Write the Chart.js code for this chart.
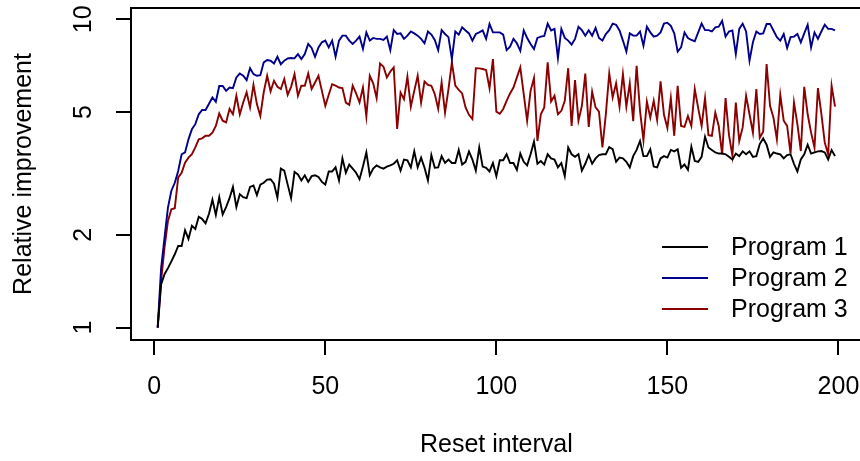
<!DOCTYPE html>
<html>
<head>
<meta charset="utf-8">
<script src="https://cdn.jsdelivr.net/npm/chart.js@4"></script>
<style>
  body { margin: 0; background: #fff; }
  #wrap { width: 860px; height: 461px; }
</style>
</head>
<body>
<div id="wrap"><canvas id="improvementChart" width="860" height="461"></canvas></div>
<script>
// values (relative improvement, log axis)
var program1 = [
  1.00, 1.38, 1.49, 1.56, 1.64, 1.73, 1.84, 1.84, 2.07, 1.94,
  2.14, 2.09, 2.29, 2.25, 2.18, 2.34, 2.60, 2.32, 2.65, 2.33,
  2.46, 2.63, 2.86, 2.46, 2.71, 2.65, 2.63, 2.86, 2.89, 2.69,
  2.91, 2.95, 3.02, 3.03, 2.93, 2.64, 3.28, 3.23, 2.91, 2.63,
  3.20, 3.14, 3.00, 3.12, 2.97, 3.10, 3.12, 3.08, 2.97, 2.91,
  3.21, 3.21, 3.31, 3.00, 3.54, 3.18, 3.38, 3.28, 3.18, 3.03,
  3.33, 3.70, 3.12, 3.28, 3.36, 3.31, 3.28, 3.33, 3.36, 3.40,
  3.49, 3.23, 3.51, 3.49, 3.31, 3.73, 3.31, 3.56, 3.30, 3.00,
  3.63, 3.30, 3.31, 3.60, 3.42, 3.51, 3.42, 3.42, 3.77, 3.38,
  3.45, 3.73, 3.51, 3.23, 3.84, 3.33, 3.30, 3.21, 3.42, 3.10,
  3.49, 3.49, 3.65, 3.42, 3.42, 3.25, 3.67, 3.45, 3.36, 3.65,
  4.01, 3.40, 3.47, 3.38, 3.65, 3.54, 3.51, 3.31, 3.42, 3.10,
  3.84, 3.65, 3.58, 3.65, 3.23, 3.40, 3.63, 3.40, 3.54, 3.63,
  3.65, 3.65, 3.85, 3.79, 3.45, 3.56, 3.54, 3.45, 3.31, 3.60,
  3.77, 4.03, 3.60, 3.60, 3.79, 3.33, 3.31, 3.54, 3.60, 3.56,
  3.77, 3.73, 3.79, 3.30, 3.38, 3.25, 3.86, 3.47, 3.45, 3.58,
  4.16, 3.84, 3.77, 3.70, 3.67, 3.67, 3.65, 3.58, 3.51, 3.67,
  3.60, 3.73, 3.65, 3.73, 3.58, 3.60, 3.94, 4.11, 3.92, 3.58,
  3.70, 3.67, 3.65, 3.54, 3.63, 3.65, 3.40, 3.21, 3.51, 3.65,
  3.92, 3.67, 3.70, 3.73, 3.74, 3.70, 3.51, 3.77, 3.60
];
var program2 = [
  1.00, 1.56, 1.96, 2.45, 2.78, 2.95, 3.22, 3.65, 3.70, 4.08,
  4.40, 4.57, 4.92, 5.08, 5.08, 5.32, 5.58, 5.40, 6.08, 6.08,
  5.86, 6.01, 5.98, 6.48, 6.67, 6.56, 6.35, 6.94, 6.64, 6.56,
  6.59, 7.25, 7.38, 7.34, 7.19, 7.56, 7.15, 7.34, 7.47, 7.49,
  7.47, 7.71, 7.43, 7.71, 8.32, 8.07, 7.56, 8.11, 8.42, 8.53,
  8.11, 8.53, 7.56, 8.53, 8.85, 8.85, 8.53, 8.32, 8.53, 8.79,
  8.01, 9.07, 8.53, 8.70, 8.64, 8.64, 8.57, 8.79, 7.94, 9.22,
  8.96, 9.00, 8.64, 8.85, 9.13, 9.00, 8.85, 8.64, 8.36, 9.13,
  8.92, 8.57, 7.94, 9.22, 8.96, 8.75, 7.43, 9.13, 8.92, 9.42,
  9.20, 9.00, 8.53, 8.96, 9.07, 9.20, 8.64, 9.66, 9.07, 9.07,
  9.07, 8.92, 7.94, 8.15, 8.64, 8.36, 7.90, 9.20, 8.70, 8.32,
  8.01, 8.70, 8.79, 8.83, 9.68, 9.20, 9.31, 7.49, 9.31, 8.70,
  8.53, 8.28, 8.64, 9.46, 9.22, 8.85, 9.22, 8.85, 9.38, 8.70,
  8.53, 8.96, 9.22, 9.68, 9.60, 9.20, 8.53, 7.86, 9.00, 8.85,
  8.85, 9.13, 8.21, 9.46, 9.07, 8.79, 8.85, 9.07, 9.68, 9.75,
  9.53, 9.00, 7.86, 8.11, 9.07, 8.70, 8.57, 8.49, 9.07, 9.68,
  9.22, 9.22, 9.13, 9.42, 9.46, 9.88, 8.79, 9.13, 9.20, 7.71,
  9.31, 9.68, 9.13, 7.34, 8.42, 9.13, 8.96, 9.00, 9.66, 9.66,
  9.20, 8.75, 8.53, 8.96, 8.07, 8.75, 8.79, 8.96, 8.42, 9.00,
  9.60, 8.11, 9.07, 8.64, 9.13, 9.60, 9.31, 9.31, 9.20
];
var program3 = [
  1.00, 1.42, 1.82, 2.22, 2.42, 2.44, 3.07, 3.18, 3.43, 3.56,
  3.65, 3.84, 4.08, 4.11, 4.19, 4.19, 4.29, 4.51, 4.95, 4.69,
  4.63, 5.12, 4.92, 5.65, 4.92, 5.37, 5.80, 5.18, 6.13, 5.31,
  4.86, 5.80, 6.56, 5.84, 6.32, 6.04, 5.94, 6.40, 5.69, 6.04,
  6.64, 5.65, 6.09, 6.09, 6.67, 5.94, 6.24, 6.56, 5.86, 5.24,
  5.69, 6.16, 6.09, 6.01, 5.98, 5.37, 5.28, 6.09, 5.75, 5.37,
  6.01, 4.84, 6.56, 6.20, 5.55, 7.19, 7.02, 6.48, 6.77, 6.98,
  4.41, 5.79, 5.51, 6.51, 5.21, 5.86, 6.56, 5.37, 6.29, 6.13,
  6.09, 5.72, 5.12, 6.24, 4.98, 5.94, 7.25, 6.09, 5.90, 5.75,
  5.18, 4.90, 4.75, 6.94, 6.93, 6.90, 6.85, 5.98, 7.43, 5.02,
  4.94, 5.12, 5.44, 5.75, 6.01, 6.48, 6.98, 5.72, 4.69, 5.86,
  6.45, 4.03, 4.92, 5.18, 7.25, 5.41, 5.65, 4.92, 5.05, 5.44,
  6.94, 4.51, 6.35, 4.69, 5.24, 6.67, 4.48, 5.83, 5.18, 5.02,
  3.84, 4.92, 6.67, 5.58, 6.20, 5.21, 6.64, 5.21, 6.20, 4.67,
  7.07, 5.05, 4.05, 5.41, 4.80, 5.44, 4.71, 6.29, 4.90, 4.44,
  5.55, 4.19, 6.09, 4.51, 4.48, 4.86, 4.51, 5.94, 5.15, 4.51,
  5.55, 4.21, 4.19, 4.98, 4.51, 3.65, 5.55, 4.21, 3.61, 5.37,
  4.03, 4.46, 5.65, 4.92, 4.29, 5.94, 4.13, 4.32, 7.16, 5.24,
  4.80, 4.08, 5.69, 4.69, 4.51, 3.67, 5.37, 4.57, 3.74, 6.04,
  4.92, 4.29, 3.84, 5.98, 4.94, 3.98, 3.65, 6.09, 5.21
];
var seriesNames = ['Program 1', 'Program 2', 'Program 3'];
var seriesColors = ['#000000', '#00008B', '#8B0000'];
var xTicks = [0, 50, 100, 150, 200];
var yTicks = [1, 2, 5, 10];

function toPoints(values) {
    return values.map(function (v, i) { return { x: i + 1, y: v }; });
}

var FONT = '25px "Liberation Sans", Arial, sans-serif';

// R-style box (right side runs off the canvas), axes, titles and legend
var baseGraphics = {
    id: 'baseGraphics',
    afterDraw: function (chart) {
        var ctx = chart.ctx;
        var area = chart.chartArea;
        var xs = chart.scales.x, ys = chart.scales.y;
        ctx.save();
        ctx.strokeStyle = '#000';
        ctx.fillStyle = '#000';
        ctx.lineWidth = 2;
        ctx.beginPath();
        ctx.moveTo(area.right + 5, area.top);
        ctx.lineTo(area.left, area.top);
        ctx.lineTo(area.left, area.bottom);
        ctx.lineTo(area.right + 5, area.bottom);
        ctx.stroke();

        // x axis
        ctx.beginPath();
        xTicks.forEach(function (t) {
            var px = Math.round(xs.getPixelForValue(t));
            ctx.moveTo(px, area.bottom);
            ctx.lineTo(px, area.bottom + 15);
        });
        ctx.stroke();
        ctx.font = FONT;
        ctx.textAlign = 'center';
        ctx.textBaseline = 'middle';
        xTicks.forEach(function (t) {
            ctx.fillText(String(t), xs.getPixelForValue(t), 387);
        });
        ctx.fillText('Reset interval', xs.getPixelForValue(100), 445);

        // y axis
        ctx.beginPath();
        yTicks.forEach(function (t) {
            var py = Math.round(ys.getPixelForValue(t));
            ctx.moveTo(area.left, py);
            ctx.lineTo(area.left - 15, py);
        });
        ctx.stroke();
        yTicks.forEach(function (t) {
            ctx.save();
            ctx.translate(84, ys.getPixelForValue(t));
            ctx.rotate(-Math.PI / 2);
            ctx.fillText(String(t), 0, 0);
            ctx.restore();
        });
        ctx.save();
        ctx.translate(24, (area.top + area.bottom) / 2);
        ctx.rotate(-Math.PI / 2);
        ctx.fillText('Relative improvement', 0, 0);
        ctx.restore();

        // legend
        ctx.textAlign = 'left';
        var legendY = [247, 278, 309];
        seriesNames.forEach(function (name, i) {
            ctx.strokeStyle = seriesColors[i];
            ctx.beginPath();
            ctx.moveTo(662, legendY[i]);
            ctx.lineTo(708, legendY[i]);
            ctx.stroke();
            ctx.fillStyle = '#000';
            ctx.fillText(name, 731, legendY[i] + 1);
        });
        ctx.restore();
    }
};

var ctx = document.getElementById('improvementChart').getContext('2d');
var chart = new Chart(ctx, {
    type: 'line',
    data: {
        datasets: [
            { label: seriesNames[0], data: toPoints(program1), borderColor: seriesColors[0] },
            { label: seriesNames[1], data: toPoints(program2), borderColor: seriesColors[1] },
            { label: seriesNames[2], data: toPoints(program3), borderColor: seriesColors[2] }
        ]
    },
    options: {
        responsive: false,
        animation: false,
        devicePixelRatio: 1,
        layout: { padding: { left: 131, top: 8, right: 0, bottom: 121 } },
        elements: {
            point: { radius: 0 },
            line: { borderWidth: 1.9, tension: 0 }
        },
        plugins: { legend: { display: false }, tooltip: { enabled: false } },
        scales: {
            x: { type: 'linear', min: -6.8, max: 206.3, display: false },
            y: { type: 'logarithmic', min: 0.912, max: 10.88, display: false }
        }
    },
    plugins: [baseGraphics]
});
</script>
</body>
</html>
